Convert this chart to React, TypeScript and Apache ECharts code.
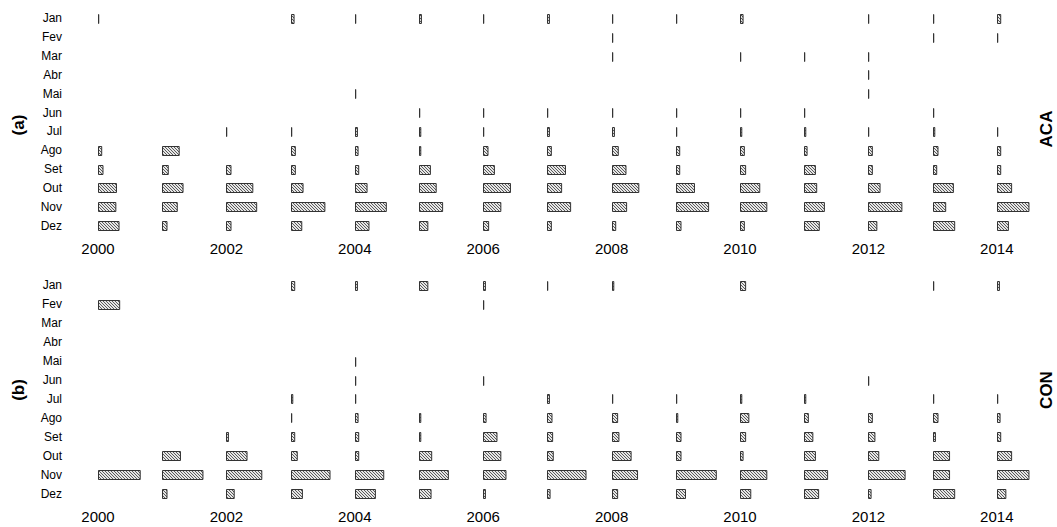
import React, { useEffect, useRef } from "react";
import * as echarts from "echarts";

const years = [2000, 2001, 2002, 2003, 2004, 2005, 2006, 2007, 2008, 2009, 2010, 2011, 2012, 2013, 2014];
const months = ["Jan", "Fev", "Mar", "Abr", "Mai", "Jun", "Jul", "Ago", "Set", "Out", "Nov", "Dez"];
const yearTicks = [2000, 2002, 2004, 2006, 2008, 2010, 2012, 2014];

type V = number | null;
const n = null;
const L = 0.004; // a trace (drawn as a thin line)

// Panel (a) ACA — duration per month, one value per year 2000..2014
const acaJan: V[] = [L, n, n, 0.04, L, 0.03, L, 0.03, L, L, 0.04, n, L, L, 0.05];
const acaFev: V[] = [n, n, n, n, n, n, n, n, L, n, n, n, n, L, L];
const acaMar: V[] = [n, n, n, n, n, n, n, n, L, n, L, L, L, n, n];
const acaAbr: V[] = [n, n, n, n, n, n, n, n, n, n, n, n, L, n, n];
const acaMai: V[] = [n, n, n, n, L, n, n, n, n, n, n, n, L, n, n];
const acaJun: V[] = [n, n, n, n, n, L, L, L, L, L, L, L, n, L, n];
const acaJul: V[] = [n, n, L, L, 0.03, 0.02, L, 0.03, 0.03, L, 0.02, 0.02, L, 0.02, L];
const acaAgo: V[] = [0.05, 0.26, n, 0.06, 0.04, 0.02, 0.07, 0.06, 0.09, 0.05, 0.06, 0.04, 0.06, 0.07, 0.05];
const acaSet: V[] = [0.07, 0.09, 0.07, 0.06, 0.05, 0.17, 0.17, 0.28, 0.21, 0.05, 0.08, 0.17, 0.06, 0.05, 0.05];
const acaOut: V[] = [0.28, 0.32, 0.41, 0.18, 0.18, 0.26, 0.42, 0.22, 0.41, 0.28, 0.3, 0.19, 0.18, 0.31, 0.22];
const acaNov: V[] = [0.27, 0.23, 0.47, 0.52, 0.48, 0.36, 0.27, 0.36, 0.22, 0.5, 0.41, 0.31, 0.52, 0.19, 0.49];
const acaDez: V[] = [0.32, 0.07, 0.07, 0.16, 0.21, 0.13, 0.08, 0.06, 0.05, 0.07, 0.06, 0.23, 0.13, 0.33, 0.17];

// Panel (b) CON
const conJan: V[] = [n, n, n, 0.05, 0.03, 0.13, 0.03, L, 0.02, n, 0.08, n, n, L, 0.03];
const conFev: V[] = [0.33, n, n, n, n, n, L, n, n, n, n, n, n, n, n];
const conMar: V[] = [n, n, n, n, n, n, n, n, n, n, n, n, n, n, n];
const conAbr: V[] = [n, n, n, n, n, n, n, n, n, n, n, n, n, n, n];
const conMai: V[] = [n, n, n, n, L, n, n, n, n, n, n, n, n, n, n];
const conJun: V[] = [n, n, n, n, L, n, L, n, n, n, n, n, L, n, n];
const conJul: V[] = [n, n, n, 0.02, L, n, n, 0.03, L, L, 0.02, 0.02, n, L, L];
const conAgo: V[] = [n, n, n, L, 0.04, 0.02, 0.04, 0.07, 0.08, 0.02, 0.13, 0.06, 0.06, 0.07, 0.04];
const conSet: V[] = [n, n, 0.03, 0.05, 0.05, 0.02, 0.21, 0.08, 0.1, 0.07, 0.08, 0.13, 0.1, 0.03, 0.05];
const conOut: V[] = [n, 0.28, 0.32, 0.09, 0.05, 0.19, 0.27, 0.09, 0.29, 0.07, 0.04, 0.17, 0.16, 0.25, 0.22];
const conNov: V[] = [0.65, 0.63, 0.55, 0.6, 0.44, 0.45, 0.35, 0.6, 0.39, 0.62, 0.41, 0.36, 0.57, 0.25, 0.49];
const conDez: V[] = [n, 0.07, 0.12, 0.17, 0.31, 0.18, 0.03, 0.04, 0.08, 0.14, 0.16, 0.22, 0.04, 0.33, 0.13];

const acaRows = [acaJan, acaFev, acaMar, acaAbr, acaMai, acaJun, acaJul, acaAgo, acaSet, acaOut, acaNov, acaDez];
const conRows = [conJan, conFev, conMar, conAbr, conMai, conJun, conJul, conAgo, conSet, conOut, conNov, conDez];

function toData(rows: V[][]) {
  const out: number[][] = [];
  rows.forEach((row, m) => {
    row.forEach((v, i) => {
      if (v != null) out.push([years[i], m, v]);
    });
  });
  return out;
}

function makePattern() {
  const c = document.createElement("canvas");
  c.width = 3;
  c.height = 3;
  const ctx = c.getContext("2d")!;
  ctx.fillStyle = "#e6e6e6";
  ctx.fillRect(0, 0, 3, 3);
  ctx.strokeStyle = "#4a4a4a";
  ctx.lineWidth = 0.9;
  ctx.beginPath();
  ctx.moveTo(-1, -1);
  ctx.lineTo(4, 4);
  ctx.moveTo(-1, 2);
  ctx.lineTo(1, 4);
  ctx.moveTo(2, -1);
  ctx.lineTo(4, 1);
  ctx.stroke();
  return c;
}

export default function App() {
  const ref = useRef<HTMLDivElement>(null);
  useEffect(() => {
    if (!ref.current) return;
    const chart = echarts.init(ref.current, null, { renderer: "svg" });
    const pattern = { image: makePattern(), repeat: "repeat" };
    const font = "'Liberation Sans', Arial, sans-serif";
    const gridLeft = 98;
    const yearPx = 64.2;
    const xMax = 2014.6;
    const gridWidth = yearPx * (xMax - 2000);

    const renderItem = (params: any, api: any) => {
      const yr = api.value(0);
      const m = api.value(1);
      const v = api.value(2);
      const s = api.coord([yr, m]);
      const e = api.coord([yr + v, m]);
      const h = api.size([0, 1])[1] * 0.48;
      return {
        type: "rect",
        shape: { x: Math.round(s[0]) + 0.5, y: Math.round(s[1] - h / 2) + 0.5, width: Math.max(e[0] - s[0], 0), height: Math.round(h) },
        style: { fill: pattern, stroke: "#333333", lineWidth: 1 },
      };
    };

    const xAxisCfg = (gi: number) => ({
      type: "value",
      gridIndex: gi,
      min: 2000,
      max: xMax,
      interval: 2,
      axisLine: { show: false },
      axisTick: { show: false },
      splitLine: { show: false },
      axisLabel: {
        color: "#000",
        fontSize: 15,
        fontFamily: font,
        margin: 6,
        showMaxLabel: false,
        formatter: (v: number) => (yearTicks.indexOf(v) >= 0 ? String(v) : ""),
      },
    });
    const yAxisCfg = (gi: number) => ({
      type: "category",
      gridIndex: gi,
      data: months,
      inverse: true,
      axisLine: { show: false },
      axisTick: { show: false },
      splitLine: { show: false },
      axisLabel: { color: "#000", fontSize: 12, fontFamily: font, margin: 36, align: "right" },
    });

    chart.setOption({
      animation: false,
      backgroundColor: "#ffffff",
      grid: [
        { left: gridLeft, top: 9, width: gridWidth, height: 226 },
        { left: gridLeft, top: 276, width: gridWidth, height: 227 },
      ],
      xAxis: [xAxisCfg(0), xAxisCfg(1)],
      yAxis: [yAxisCfg(0), yAxisCfg(1)],
      series: [
        { type: "custom", name: "ACA", xAxisIndex: 0, yAxisIndex: 0, renderItem, data: toData(acaRows), encode: { x: 0, y: 1 }, silent: true },
        { type: "custom", name: "CON", xAxisIndex: 1, yAxisIndex: 1, renderItem, data: toData(conRows), encode: { x: 0, y: 1 }, silent: true },
      ],
      graphic: [
        { type: "text", x: 18, y: 125, rotation: Math.PI / 2, style: { text: "(a)", font: `bold 17px ${font}`, fill: "#000", align: "center", verticalAlign: "middle" } },
        { type: "text", x: 18, y: 390, rotation: Math.PI / 2, style: { text: "(b)", font: `bold 17px ${font}`, fill: "#000", align: "center", verticalAlign: "middle" } },
        { type: "text", x: 1046, y: 129, rotation: Math.PI / 2, style: { text: "ACA", font: `bold 17px ${font}`, fill: "#000", align: "center", verticalAlign: "middle" } },
        { type: "text", x: 1046, y: 390, rotation: Math.PI / 2, style: { text: "CON", font: `bold 17px ${font}`, fill: "#000", align: "center", verticalAlign: "middle" } },
      ],
    });
    return () => chart.dispose();
  }, []);
  return <div ref={ref} style={{ position: "absolute", left: 0, top: 0, width: 1057, height: 527 }} />;
}
